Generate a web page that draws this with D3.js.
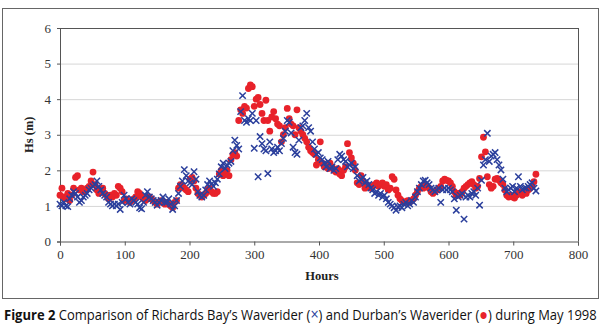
<!DOCTYPE html>
<html>
<head>
<meta charset="utf-8">
<script src="https://cdn.jsdelivr.net/npm/d3@7/dist/d3.min.js"></script>
<style>
  body { margin: 0; background: #fff; }
  svg { display: block; }
</style>
</head>
<body>
<div id="chart"></div>
<script>
// Hs at Richards Bay (x) vs Durban (dot), May 1998, sampled every 3 hours
const stepHours = 3;
const xTicks = [0, 100, 200, 300, 400, 500, 600, 700, 800];
const yTicks = [0, 1, 2, 3, 4, 5, 6];

const richardsBay = [
  1.05, 1.0, 1.1, 1.0, 0.98, 1.2, 1.3, 1.4, 1.35, 1.25, 1.1, 1.15, 1.25, 1.3, 1.35, 1.45, 1.5, 1.55, 1.6, 1.7,
  1.55, 1.45, 1.35, 1.3, 1.25, 1.1, 1.05, 1.0, 1.05, 1.0, 1.05, 0.9, 1.1, 1.3, 1.2, 1.1, 1.05, 1.2, 1.15, 1.1,
  1.05, 0.95, 0.92, 1.1, 1.3, 1.4, 1.25, 1.2, 1.15, 1.1, 1.02, 1.1, 1.15, 1.25, 1.1, 1.1, 1.2, 1.05, 0.9, 1.0,
  1.15, 1.35, 1.55, 1.7, 2.02, 1.85, 1.7, 1.65, 1.6, 1.96, 1.75, 1.4, 1.3, 1.25, 1.3, 1.45, 1.6, 1.7, 1.62, 1.55,
  1.65, 1.75, 1.9, 2.1, 2.2, 2.05, 2.15, 2.2, 2.25, 2.55, 2.85, 2.7, 2.6, 3.65, 4.1, 3.4, 3.35, 3.45, 3.4, 3.6,
  2.62, 3.4, 1.82, 2.95, 2.75, 2.6, 2.55, 1.91, 2.8, 2.6, 2.5, 2.55, 2.65, 2.55, 2.75, 2.9, 3.1, 3.4, 3.35, 3.05,
  2.65, 2.5, 2.45, 2.85, 3.2, 3.25, 3.4, 3.6, 3.2, 3.1, 2.8, 2.6, 2.45, 2.5, 2.35, 2.3, 2.2, 2.1, 2.25, 2.05,
  2.1, 2.0, 2.05, 2.3, 2.45, 2.4, 2.3, 2.25, 2.1, 2.15, 2.2, 2.05, 2.1, 1.85, 1.7, 1.75, 1.8, 1.65, 1.7, 1.6,
  1.5, 1.45, 1.35, 1.4, 1.3, 1.35, 1.25, 1.3, 1.2, 1.1, 1.05, 1.0, 0.95, 0.88, 0.97, 1.0, 0.95, 1.05, 1.1, 1.0,
  1.05, 1.15, 1.1, 1.25, 1.4, 1.5, 1.6, 1.7, 1.72, 1.65, 1.6, 1.5, 1.45, 1.4, 1.45, 1.5, 1.1, 1.45, 1.5, 1.45,
  1.5, 1.45, 1.4, 1.2, 0.88, 1.25, 1.3, 1.35, 0.63, 1.25, 1.3, 1.25, 1.35, 1.4, 1.3, 1.5, 1.02, 1.72, 2.15, 2.3,
  3.04, 2.25, 2.4, 2.45, 2.5, 2.3, 2.15, 2.01, 1.75, 1.5, 1.4, 1.45, 1.5, 1.55, 1.4, 1.5, 1.82, 1.55, 1.45, 1.5,
  1.5, 1.55, 1.6, 1.65, 1.5, 1.42
];

const durban = [
  1.3, 1.5, 1.25, 1.2, 1.35, 1.15, 1.3, 1.5, 1.8, 1.85, 1.45, 1.5, 1.4, 1.45, 1.5, 1.55, 1.7, 1.95, 1.6, 1.45,
  1.35, 1.4, 1.5, 1.35, 1.3, 1.2, 1.3, 1.25, 1.35, 1.3, 1.55, 1.5, 1.4, 1.15, 1.2, 1.15, 1.1, 1.15, 1.2, 1.25,
  1.4, 1.35, 1.25, 1.2, 1.15, 1.2, 1.25, 1.2, 1.15, 1.1, 1.05, 1.1, 1.15, 1.1, 1.05, 1.1, 1.05, 1.0, 0.95, 1.1,
  1.15, 1.5, 1.6, 1.55, 1.5, 1.45, 1.4, 1.75, 1.8, 1.7, 1.5, 1.35, 1.3, 1.25, 1.3, 1.35, 1.45, 1.5, 1.4, 1.35,
  1.35, 1.4, 1.9, 2.0, 1.85, 1.9, 2.0, 1.85, 2.3, 2.45, 2.5, 2.4, 3.4, 3.7, 3.6, 3.8, 3.75, 4.3, 4.4, 4.35,
  3.8, 4.0, 4.05, 3.85, 3.6, 3.4, 3.97, 3.4, 3.1, 3.5, 3.65, 3.45, 3.3, 3.25, 2.8, 3.0, 3.2, 3.74, 3.45, 3.3,
  3.25, 3.0, 3.7, 3.2, 3.1, 3.0, 2.9, 2.8, 2.65, 2.55, 2.5, 2.45, 2.15, 2.3, 2.8, 2.2, 2.1, 2.15, 2.05, 2.2,
  2.1, 2.0, 1.95, 2.05, 1.9, 1.85, 2.0, 2.1, 2.75, 2.5, 2.35, 2.2, 2.0, 1.65, 1.6, 1.85, 1.7, 1.5, 1.6, 1.55,
  1.5, 1.55, 1.6, 1.65, 1.55, 1.6, 1.65, 1.55, 1.6, 1.45, 1.5, 1.82, 1.75, 1.45, 1.3, 1.2, 1.15, 1.1, 1.1, 1.15,
  1.1, 1.15, 1.2, 1.3, 1.4, 1.5, 1.55, 1.5, 1.6, 1.55, 1.5, 1.4, 1.35, 1.4, 1.45, 1.5, 1.55, 1.7, 1.75, 1.72,
  1.7, 1.65, 1.55, 1.4, 1.3, 1.35, 1.3, 1.4, 1.5, 1.55, 1.6, 1.65, 1.68, 1.6, 1.5, 1.55, 1.77, 2.38, 2.93, 2.52,
  1.82, 1.6, 1.5, 1.55, 1.75, 1.77, 1.72, 1.65, 1.6, 1.45, 1.3, 1.25, 1.3, 1.25, 1.22, 1.3, 1.4, 1.35, 1.3, 1.4,
  1.35, 1.45, 1.5, 1.55, 1.68, 1.89
];

const W = 601, H = 330;
const margin = { top: 28, right: 23, bottom: 88.5, left: 60 };
const iw = W - margin.left - margin.right;
const ih = H - margin.top - margin.bottom;
const blue = "#2b3f9c", red = "#e8222a";
const serif = "'Liberation Serif', 'DejaVu Serif', serif";

const svg = d3.select("#chart").append("svg").attr("width", W).attr("height", H);

// outer frame
svg.append("rect").attr("x", 2.5).attr("y", 8.5).attr("width", 596).attr("height", 290)
  .attr("fill", "none").attr("stroke", "#666").attr("stroke-width", 1);

const g = svg.append("g").attr("transform", `translate(${margin.left},${margin.top})`);
const x = d3.scaleLinear().domain([0, 800]).range([0, iw]);
const y = d3.scaleLinear().domain([0, 6]).range([ih, 0]);

g.append("g").selectAll("line").data(yTicks.slice(1, -1)).join("line")
  .attr("x1", 0).attr("x2", iw).attr("y1", d => y(d) + 0.5).attr("y2", d => y(d) + 0.5)
  .attr("stroke", "#d6d6d6");

// top and right frame lines of the plot area
g.append("line").attr("x1", 0).attr("x2", iw).attr("y1", 0.5).attr("y2", 0.5).attr("stroke", "#555");
g.append("line").attr("x1", iw + 0.5).attr("x2", iw + 0.5).attr("y1", 0).attr("y2", ih).attr("stroke", "#555");

const gx = g.append("g").attr("transform", `translate(0,${ih})`)
  .call(d3.axisBottom(x).tickValues(xTicks).tickSize(4).tickPadding(4).tickFormat(d3.format("d")));
const gy = g.append("g")
  .call(d3.axisLeft(y).tickValues(yTicks).tickSize(3).tickPadding(6).tickFormat(d3.format("d")));
for (const ax of [gx, gy]) {
  ax.select(".domain").attr("stroke", "#555");
  ax.selectAll(".tick line").attr("stroke", "#555");
  ax.selectAll("text").attr("font-family", serif).attr("font-size", 13).attr("fill", "#333");
}

const durbanPts = durban.map((v, i) => ({ h: i * stepHours, v }));
const rbPts = richardsBay.map((v, i) => ({ h: i * stepHours, v }));

g.append("g").selectAll("circle").data(durbanPts).join("circle")
  .attr("cx", d => x(d.h)).attr("cy", d => y(d.v)).attr("r", 3.4).attr("fill", red);

const cross = d3.symbol().type(d3.symbolX).size(28);
g.append("g").selectAll("path").data(rbPts).join("path")
  .attr("transform", d => `translate(${x(d.h)},${y(d.v)})`)
  .attr("d", cross).attr("fill", "none").attr("stroke", blue).attr("stroke-width", 1.5);

g.append("text").attr("x", iw / 2 + 3).attr("y", ih + 38).attr("text-anchor", "middle")
  .attr("font-family", serif).attr("font-weight", "bold").attr("font-size", 12.5).attr("fill", "#222")
  .text("Hours");
g.append("text").attr("transform", `translate(${-27},${ih / 2}) rotate(-90)`).attr("text-anchor", "middle")
  .attr("font-family", serif).attr("font-weight", "bold").attr("font-size", 12.5).attr("fill", "#222")
  .text("Hs (m)");

// caption
const cap = svg.append("text").attr("x", 0).attr("y", 0)
  .attr("font-family", "'Open Sans', 'Liberation Sans', sans-serif").attr("font-size", 14.5).attr("fill", "#111");
cap.append("tspan").attr("font-weight", "bold").text("Figure 2");
cap.append("tspan").text(" Comparison of Richards Bay\u2019s Waverider (");
cap.append("tspan").attr("fill", blue).attr("font-size", 16).text("\u00d7");
cap.append("tspan").text(") and Durban\u2019s Waverider (");
cap.append("tspan").attr("fill", red).attr("font-size", 16).text("\u25cf");
cap.append("tspan").text(") during May 1998");
const cw = cap.node().getComputedTextLength();
cap.attr("transform", `translate(4,319.5) scale(${593 / cw},1)`);
</script>
</body>
</html>
